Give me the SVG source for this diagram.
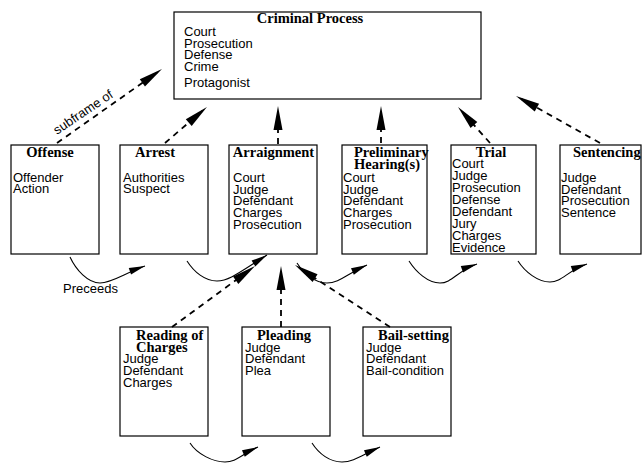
<svg xmlns="http://www.w3.org/2000/svg" width="643" height="463" viewBox="0 0 643 463">
<style>
.box{fill:#fff;stroke:#000;stroke-width:1.2}
.t{font-family:"Liberation Serif","Times New Roman",serif;font-weight:bold;font-size:14.5px;fill:#000}
.i{font-family:"Liberation Sans",Arial,sans-serif;font-size:13px;fill:#000}
.d{fill:none;stroke:#000;stroke-width:1.8;stroke-dasharray:6 5}
.c{fill:none;stroke:#000;stroke-width:1.1}
</style>
<defs>
<marker id="big" markerUnits="userSpaceOnUse" markerWidth="24" markerHeight="10" viewBox="0 0 24 10" refX="18" refY="5" orient="auto" overflow="visible">
<path d="M0,0.5 L24,5 L0,9.5 Z" fill="#000"/>
</marker>
<marker id="sm" markerUnits="userSpaceOnUse" markerWidth="16" markerHeight="8" viewBox="0 0 16 8" refX="16" refY="4" orient="auto" overflow="visible">
<path d="M0,0.5 L16,4 L0,7.5 Z" fill="#000"/>
</marker>
</defs>

<g id="criminal-process">
<rect class="box" x="174" y="12" width="307" height="87"/>
<text class="t" x="310" y="23" text-anchor="middle">Criminal Process</text>
<text class="i" x="184" y="36">Court</text>
<text class="i" x="184" y="48">Prosecution</text>
<text class="i" x="184" y="59">Defense</text>
<text class="i" x="184" y="71">Crime</text>
<text class="i" x="184" y="87">Protagonist</text>
</g>

<g id="offense">
<rect class="box" x="11" y="145" width="88" height="109"/>
<text class="t" x="50" y="157" text-anchor="middle">Offense</text>
<text class="i" x="13" y="182">Offender</text>
<text class="i" x="13" y="193">Action</text>
</g>

<g id="arrest">
<rect class="box" x="120" y="145" width="88" height="109"/>
<text class="t" x="155" y="157" text-anchor="middle">Arrest</text>
<text class="i" x="123" y="182">Authorities</text>
<text class="i" x="123" y="193">Suspect</text>
</g>

<g id="arraignment">
<rect class="box" x="229" y="145" width="88" height="109"/>
<text class="t" x="273.5" y="157" text-anchor="middle">Arraignment</text>
<text class="i" x="233" y="182">Court</text>
<text class="i" x="233" y="194">Judge</text>
<text class="i" x="233" y="205">Defendant</text>
<text class="i" x="233" y="217">Charges</text>
<text class="i" x="233" y="229">Prosecution</text>
</g>

<g id="preliminary-hearing">
<rect class="box" x="342" y="145" width="85" height="109"/>
<text class="t" x="354" y="157">Preliminary</text>
<text class="t" x="354" y="169">Hearing(s)</text>
<text class="i" x="343" y="182">Court</text>
<text class="i" x="343" y="194">Judge</text>
<text class="i" x="343" y="205">Defendant</text>
<text class="i" x="343" y="217">Charges</text>
<text class="i" x="343" y="229">Prosecution</text>
</g>

<g id="trial">
<rect class="box" x="451" y="145" width="85" height="109"/>
<text class="t" x="491" y="157" text-anchor="middle">Trial</text>
<text class="i" x="452" y="168">Court</text>
<text class="i" x="452" y="180">Judge</text>
<text class="i" x="452" y="192">Prosecution</text>
<text class="i" x="452" y="204">Defense</text>
<text class="i" x="452" y="216">Defendant</text>
<text class="i" x="452" y="228">Jury</text>
<text class="i" x="452" y="240">Charges</text>
<text class="i" x="452" y="252">Evidence</text>
</g>

<g id="sentencing">
<rect class="box" x="560" y="145" width="81" height="109"/>
<text class="t" x="573" y="157">Sentencing</text>
<text class="i" x="561" y="182">Judge</text>
<text class="i" x="561" y="194">Defendant</text>
<text class="i" x="561" y="205">Prosecution</text>
<text class="i" x="561" y="217">Sentence</text>
</g>

<g id="reading-of-charges">
<rect class="box" x="120" y="327" width="88" height="109"/>
<text class="t" x="136" y="340">Reading of</text>
<text class="t" x="136" y="352">Charges</text>
<text class="i" x="123" y="363">Judge</text>
<text class="i" x="123" y="375">Defendant</text>
<text class="i" x="123" y="387">Charges</text>
</g>

<g id="pleading">
<rect class="box" x="242" y="327" width="88" height="109"/>
<text class="t" x="257" y="340">Pleading</text>
<text class="i" x="245" y="352">Judge</text>
<text class="i" x="245" y="363">Defendant</text>
<text class="i" x="245" y="375">Plea</text>
</g>

<g id="bail-setting">
<rect class="box" x="363" y="327" width="88" height="109"/>
<text class="t" x="378" y="340">Bail-setting</text>
<text class="i" x="366" y="352">Judge</text>
<text class="i" x="366" y="363">Defendant</text>
<text class="i" x="366" y="375">Bail-condition</text>
</g>

<g id="connectors">
<path class="d" d="M57,143 L157.1,72.5" marker-end="url(#big)"/>
<path class="d" d="M165,143 L202.4,110.9" marker-end="url(#big)"/>
<path class="d" d="M278,144 L278,112" marker-end="url(#big)"/>
<path class="d" d="M381,143 L381,112" marker-end="url(#big)"/>
<path class="d" d="M490,143 L462,111.5" marker-end="url(#big)"/>
<path class="d" d="M600,143 L521.2,98.9" marker-end="url(#big)"/>
<path class="d" d="M172,327 L250.2,269.6" marker-end="url(#big)"/>
<path class="d" d="M281,327 L281,272" marker-end="url(#big)"/>
<path class="d" d="M390,327 L300,268.3" marker-end="url(#big)"/>

<path class="c" d="M70,257 C76,270 88,283 100,283 C112,283 125,273 145,266" marker-end="url(#sm)"/>
<path class="c" d="M187,261 C194,272 205,281 217,281 C229,281 240,272 267,255" marker-end="url(#sm)"/>
<path class="c" d="M297,263 C304,274 315,283 327,283 C339,283 347,274 367,265" marker-end="url(#sm)"/>
<path class="c" d="M409,261 C416,272 428,283 440,283 C452,283 457,271 477,264" marker-end="url(#sm)"/>
<path class="c" d="M518,261 C525,272 538,282 550,282 C562,282 567,271 587,264" marker-end="url(#sm)"/>
<path class="c" d="M190,443 C197,454 213,462 225,462 C237,462 240,455 258,447" marker-end="url(#sm)"/>
<path class="c" d="M312,443 C319,454 330,462 342,462 C354,462 362,455 380,447" marker-end="url(#sm)"/>

<text class="i" x="57" y="135" transform="rotate(-34 57 135)">subframe of</text>
<text class="i" x="63" y="293">Preceeds</text>
</g>
</svg>
